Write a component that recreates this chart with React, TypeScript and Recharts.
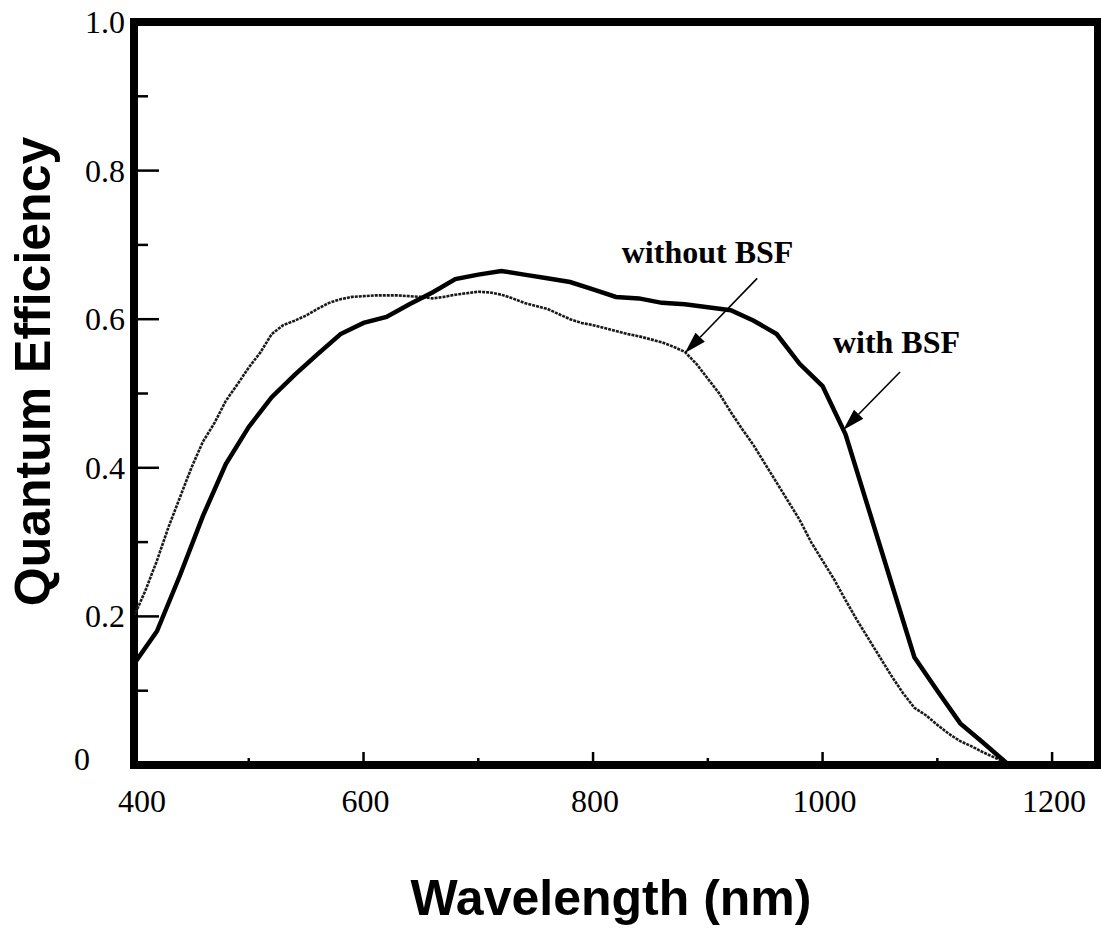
import { Line, LineChart, ReferenceArea, ReferenceDot, ReferenceLine, XAxis, YAxis } from "recharts";

// wavelength (nm) and quantum efficiency
const wavelengthTicks = [400, 500, 600, 700, 800, 900, 1000, 1100, 1200];
const efficiencyTicks = [0, 0.1, 0.2, 0.3, 0.4, 0.5, 0.6, 0.7, 0.8, 0.9, 1.0];

const withBsfNm = [
  400, 420, 440, 460, 480, 500, 520, 540, 560, 580, 600, 620, 640, 660, 680, 700, 720, 740, 760, 780,
  800, 820, 840, 860, 880, 900, 920, 940, 960, 980, 1000, 1020, 1040, 1060, 1080, 1100, 1120, 1140, 1160,
];
const withBsfQe = [
  0.136, 0.18, 0.255, 0.335, 0.405, 0.455, 0.495, 0.525, 0.553, 0.58, 0.595, 0.603, 0.62, 0.636, 0.654, 0.66,
  0.665, 0.66, 0.655, 0.65, 0.64, 0.63, 0.628, 0.622, 0.62, 0.616, 0.612, 0.598, 0.58, 0.54, 0.51, 0.445,
  0.345, 0.245, 0.145, 0.1, 0.056, 0.03, 0.003,
];

const withoutBsfNm = [
  400, 410, 420, 430, 440, 450, 460, 470, 480, 490, 500, 510, 520, 530, 540, 550, 560, 570, 580, 590, 600,
  610, 620, 630, 640, 650, 660, 670, 680, 690, 700, 710, 720, 730, 740, 750, 760, 770, 780, 790, 800, 810,
  820, 830, 840, 850, 860, 870, 880, 890, 900, 910, 920, 930, 940, 950, 960, 970, 980, 990, 1000, 1010,
  1020, 1030, 1040, 1050, 1060, 1070, 1080, 1090, 1100, 1110, 1120, 1130, 1140, 1150, 1160,
];
const withoutBsfQe = [
  0.2, 0.235, 0.275, 0.32, 0.36, 0.4, 0.435, 0.46, 0.49, 0.512, 0.535, 0.555, 0.58, 0.592, 0.598, 0.605,
  0.614, 0.622, 0.627, 0.63, 0.631, 0.632, 0.632, 0.632, 0.631, 0.63, 0.628, 0.63, 0.633, 0.635, 0.637,
  0.636, 0.633, 0.628, 0.622, 0.618, 0.614, 0.607, 0.6, 0.595, 0.592, 0.588, 0.584, 0.58, 0.577, 0.573,
  0.569, 0.563, 0.556, 0.54, 0.52, 0.5, 0.475, 0.452, 0.43, 0.405, 0.38, 0.355, 0.33, 0.3, 0.275, 0.25,
  0.222, 0.195, 0.17, 0.145, 0.12, 0.097, 0.077, 0.067, 0.054, 0.042, 0.032, 0.025, 0.017, 0.01, 0.003,
];

const annotations = [
  { label: "without BSF", textNm: 825, textQe: 0.676, fromNm: 943, fromQe: 0.655, toNm: 880, toQe: 0.5545 },
  { label: "with BSF", textNm: 1009, textQe: 0.5545, fromNm: 1067.5, fromQe: 0.529, toNm: 1018, toQe: 0.451 },
];

const withBsf = withBsfNm.map((nm, i) => ({ nm, qe: withBsfQe[i] }));
const withoutBsf = withoutBsfNm.map((nm, i) => ({ nm, qe: withoutBsfQe[i] }));

const serif = "'Liberation Serif', 'Times New Roman', serif";
const sans = "'Liberation Sans', Arial, sans-serif";

function XTick(props: any) {
  const { x, y, payload } = props;
  const v = payload.value;
  const major = v % 200 === 0;
  return (
    <g>
      <line x1={x} y1={y} x2={x} y2={y - (major ? 13 : 7)} stroke="#000" strokeWidth={2.5} />
      {major && (
        <text x={x + (v === 400 ? 8 : 2)} y={y + 47} textAnchor="middle" fontFamily={serif} fontSize={32} fill="#000">
          {v}
        </text>
      )}
    </g>
  );
}

function YTick(props: any) {
  const { x, y, payload } = props;
  const v = payload.value;
  const major = Math.round(v * 10) % 2 === 0;
  let label = null;
  if (major) {
    label =
      v === 0 ? (
        <text x={82} y={y - 6} textAnchor="middle" dominantBaseline="central" fontFamily={serif} fontSize={32} fill="#000">
          0
        </text>
      ) : (
        <text x={x - 9} y={y} textAnchor="end" dominantBaseline="central" fontFamily={serif} fontSize={32} fill="#000">
          {v.toFixed(1)}
        </text>
      );
  }
  return (
    <g>
      <line x1={x} y1={y} x2={x + (major ? 25 : 14)} y2={y} stroke="#000" strokeWidth={2.5} />
      {label}
    </g>
  );
}

function Arrow(props: any) {
  const { x1, y1, x2, y2 } = props;
  const dx = x2 - x1;
  const dy = y2 - y1;
  const len = Math.hypot(dx, dy) || 1;
  const ux = dx / len;
  const uy = dy / len;
  const head = 22;
  const half = 6.5;
  const bx = x2 - ux * head;
  const by = y2 - uy * head;
  const pts = `${x2},${y2} ${bx - uy * half},${by + ux * half} ${bx + uy * half},${by - ux * half}`;
  return (
    <g>
      <line x1={x1} y1={y1} x2={bx} y2={by} stroke="#000" strokeWidth={1.6} />
      <polygon points={pts} fill="#000" />
    </g>
  );
}

export default function App() {
  return (
    <div style={{ position: "absolute", left: 0, top: 0, background: "#fff" }}>
      <LineChart width={1101} height={949} margin={{ top: 22, right: 3, bottom: 0, left: 0 }}>
        <XAxis
          type="number"
          dataKey="nm"
          domain={[400, 1240]}
          ticks={wavelengthTicks}
          allowDataOverflow
          height={184}
          axisLine={false}
          tickLine={false}
          tickSize={0}
          tickMargin={0}
          tick={<XTick />}
          interval={0}
          label={{
            content: (p: any) => {
              const vb = p.viewBox;
              return (
                <text x={vb.x + vb.width / 2 - 5} y={vb.y + 150} textAnchor="middle" fontFamily={sans} fontWeight="bold" fontSize={50} fill="#000">
                  Wavelength (nm)
                </text>
              );
            },
          }}
        />
        <YAxis
          type="number"
          dataKey="qe"
          domain={[0, 1]}
          ticks={efficiencyTicks}
          allowDataOverflow
          width={134}
          axisLine={false}
          tickLine={false}
          tickSize={0}
          tickMargin={0}
          tick={<YTick />}
          interval={0}
          label={{
            content: (p: any) => {
              const vb = p.viewBox;
              const cx = vb.x + 50;
              const cy = vb.y + vb.height / 2 - 22;
              return (
                <text x={cx} y={cy} transform={`rotate(-90 ${cx} ${cy})`} textAnchor="middle" fontFamily={sans} fontWeight="bold" fontSize={50} fill="#000">
                  Quantum Efficiency
                </text>
              );
            },
          }}
        />
        <Line
          data={withoutBsf}
          dataKey="qe"
          type="linear"
          stroke="#1a1a1a"
          strokeWidth={2.6}
          strokeDasharray="3 1"
          dot={false}
          isAnimationActive={false}
        />
        <Line data={withBsf} dataKey="qe" type="linear" stroke="#000" strokeWidth={4.5} dot={false} isAnimationActive={false} />
        {annotations.map((a) => (
          <ReferenceLine
            key={a.label + "-arrow"}
            segment={[
              { x: a.fromNm, y: a.fromQe },
              { x: a.toNm, y: a.toQe },
            ]}
            shape={Arrow}
          />
        ))}
        {annotations.map((a) => (
          <ReferenceDot
            key={a.label}
            x={a.textNm}
            y={a.textQe}
            r={0}
            shape={(p: any) => (
              <text x={p.cx} y={p.cy} fontFamily={serif} fontWeight="bold" fontSize={32} fill="#000">
                {a.label}
              </text>
            )}
          />
        ))}
        <ReferenceArea x1={400} x2={1240} y1={0} y2={1} fill="none" stroke="#000" strokeWidth={8} />
      </LineChart>
    </div>
  );
}
